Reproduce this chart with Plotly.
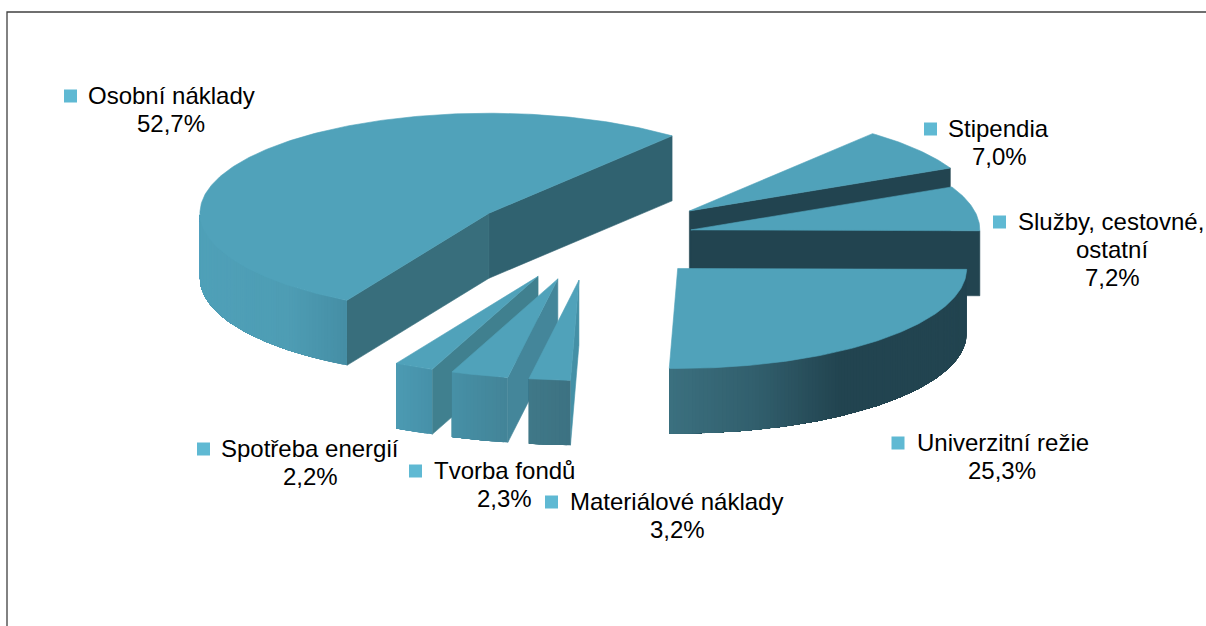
import math
import plotly.graph_objects as go

# ---- data (clockwise slice order, starting at east) ----
names = ["Univerzitní režie", "Tvorba fondů", "Materiálové náklady", "Spotřeba energií",
         "Osobní náklady", "Stipendia", "Služby, cestovné, ostatní"]
values = [25.3, 2.3, 3.2, 2.2, 52.7, 7.0, 7.2]
pulls = [0.43, 0.43, 0.43, 0.43, 0.43, 0.43, 0.352]

label_lines = [["Univerzitní režie"], ["Tvorba fondů"], ["Materiálové náklady"], ["Spotřeba energií"],
               ["Osobní náklady"], ["Stipendia"], ["Služby, cestovné,", "ostatní"]]
# text-block layout: centre x of name line, centre x of following lines, first line y, marker x
label_name_x = [1002.5, 504.5, 676.5, 309.5, 171.5, 998.5, 1110.5]
label_other_x = [1002, 504, 677, 310, 171, 999, 1112]
label_y = [443, 471, 502, 449, 96, 129, 222]
marker_x = [898, 415.5, 551.5, 203.5, 70.5, 930.5, 999.5]

# ---- styling ----
TOP = "#50A2BA"
DARK = "#224450"
MARK = "#5FB9D3"
outer_stops = [
    [(0.0, "#3B707F"), (0.3, "#315E6C"), (0.57, DARK), (1.0, DARK)],
    [(0.0, "#3F7888"), (1.0, "#3D7282")],
    [(0.0, "#4690A7"), (1.0, "#438497")],
    [(0.0, "#4C9BB2"), (1.0, "#4690A8")],
    [(0.0, "#4FA0B8"), (0.6, "#4E9DB4"), (1.0, "#458EA5")],
    [(0.0, DARK), (1.0, DARK)],
    [(0.0, DARK), (1.0, DARK)],
]
start_wall = [DARK, "#4490A6", "#44869A", "#40808F", "#386E7C", DARK, DARK]
closing_wall = {4: "#306270", 5: DARK, 6: DARK}

START_ANGLE = 0.5
CX, CY, RX, RY, DEPTH = 591.5, 237.5, 289.0, 100.0, 65.0


def hex2rgb(h):
    return [int(h[i:i + 2], 16) for i in (1, 3, 5)]


def ramp(stops, t):
    for (t0, c0), (t1, c1) in zip(stops, stops[1:]):
        if t <= t1:
            f = 0 if t1 == t0 else (t - t0) / (t1 - t0)
            a, b = hex2rgb(c0), hex2rgb(c1)
            return "#%02x%02x%02x" % tuple(round(p + (q - p) * f) for p, q in zip(a, b))
    return stops[-1][1]


def poly(fig, pts, color, lw=0.6):
    xs = [p[0] for p in pts] + [pts[0][0]]
    ys = [p[1] for p in pts] + [pts[0][1]]
    fig.add_trace(go.Scatter(x=xs, y=ys, mode="lines", fill="toself", fillcolor=color,
                             line=dict(color=color, width=lw), hoverinfo="skip", showlegend=False))


fig = go.Figure()

# slices in paint order: back to front
total = sum(values)
angles = []
acc = START_ANGLE
for v in values:
    angles.append((acc, acc + v / total * 360.0))
    acc += v / total * 360.0

for i in [4, 5, 6, 0, 3, 2, 1]:
    a0, a1 = angles[i]
    mid = math.radians((a0 + a1) / 2)
    cx = CX + pulls[i] * RX * math.cos(mid)
    cy = CY + pulls[i] * RY * math.sin(mid)

    def pt(deg):
        r = math.radians(deg)
        return (cx + RX * math.cos(r), cy + RY * math.sin(r))

    n = max(2, int((a1 - a0) / 0.75))
    degs = [a0 + (a1 - a0) * k / n for k in range(n + 1)]
    arc = [pt(d) for d in degs]
    tip = (cx, cy)

    if i in closing_wall:
        e = pt(a1)
        poly(fig, [tip, e, (e[0], e[1] + DEPTH), (tip[0], tip[1] + DEPTH)], closing_wall[i])

    if i not in (0, 5, 6):
        s = pt(a0)
        poly(fig, [tip, s, (s[0], s[1] + DEPTH), (tip[0], tip[1] + DEPTH)], start_wall[i])

    # outer wall strips, shaded left to right; each one overlaps the next so no seams show
    if i not in (5, 6):
        vis = [p for p, d in zip(arc, degs) if d <= 180.0]
        lo, hi = min(p[0] for p in vis), max(p[0] for p in vis)
        for k in range(len(vis) - 1):
            part = vis[k:]  # from here to the far end: later strips paint over it
            t = ((part[0][0] + part[1][0]) / 2 - lo) / (hi - lo)
            lower = [(p[0], p[1] + DEPTH) for p in reversed(part)]
            poly(fig, part + lower, ramp(outer_stops[i], min(1.0, max(0.0, t))), lw=0)

    poly(fig, [tip] + arc, TOP)

# chart frame
fig.add_trace(go.Scatter(x=[7, 7, 1206], y=[626, 12, 12], mode="lines",
                         line=dict(color="#404040", width=1.3), hoverinfo="skip", showlegend=False))

# label key squares
fig.add_trace(go.Scatter(x=marker_x, y=label_y, mode="markers",
                         marker=dict(symbol="square", size=13, color=MARK, line=dict(width=0)),
                         hoverinfo="skip", showlegend=False))

FONT = dict(family="Liberation Sans, Arial, sans-serif", size=24, color="#000000")
annotations = []
LINE = 28
for i, lines in enumerate(label_lines):
    rows = lines + [f"{values[i]:.1f}".replace(".", ",") + "%"]
    for k, row in enumerate(rows):
        annotations.append(dict(x=label_name_x[i] if k == 0 else label_other_x[i],
                                y=label_y[i] + k * LINE - 1,
                                text=row, showarrow=False, xanchor="center", yanchor="middle",
                                font=FONT, xref="x", yref="y"))

fig.update_layout(
    width=1206, height=626, margin=dict(l=0, r=0, t=0, b=0),
    paper_bgcolor="white", plot_bgcolor="white", showlegend=False,
    xaxis=dict(range=[0, 1206], visible=False, fixedrange=True),
    yaxis=dict(range=[626, 0], visible=False, fixedrange=True),
    annotations=annotations,
)

fig.write_html("out.html", config={"displayModeBar": False},
               post_script="document.body.style.margin='0';")
